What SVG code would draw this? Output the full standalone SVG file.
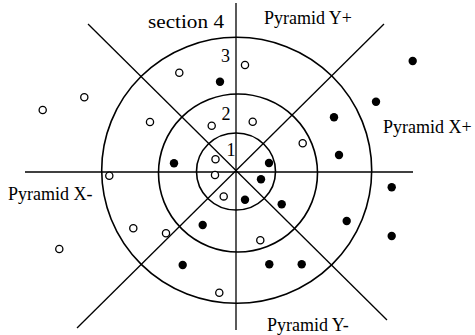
<svg xmlns="http://www.w3.org/2000/svg" width="475" height="335" viewBox="0 0 475 335">
<style>
.ln{stroke:#000;stroke-width:1.3;fill:none}
.ring{stroke:#000;stroke-width:1.6;fill:none}
.o{fill:#fff;stroke:#000;stroke-width:1.3}
.f{fill:#000}
text{font-family:"Liberation Serif","Times New Roman",serif;font-size:18px;fill:#000}
</style>
<rect width="475" height="335" fill="#fff"/>
<g id="rings">
<ellipse class="ring" cx="236.7" cy="170.3" rx="135" ry="133"/>
<ellipse class="ring" cx="238" cy="173" rx="79.5" ry="79"/>
<ellipse class="ring" cx="236" cy="171.5" rx="39.5" ry="38.5"/>
</g>
<g id="axes">
<line class="ln" x1="236" y1="3" x2="236" y2="330"/>
<line class="ln" x1="25" y1="172" x2="413" y2="172"/>
<line class="ln" x1="88" y1="24" x2="387" y2="320"/>
<line class="ln" x1="384" y1="24" x2="77" y2="328"/>
</g>
<g id="open-points">
<circle class="o" cx="179.3" cy="72.7" r="3.6"/>
<circle class="o" cx="84.3" cy="97.3" r="3.6"/>
<circle class="o" cx="42.7" cy="110" r="3.6"/>
<circle class="o" cx="150" cy="122" r="3.6"/>
<circle class="o" cx="211.7" cy="125.7" r="3.6"/>
<circle class="o" cx="215.5" cy="159.3" r="3.6"/>
<circle class="o" cx="245" cy="65" r="3.6"/>
<circle class="o" cx="252.7" cy="121.7" r="3.6"/>
<circle class="o" cx="302.7" cy="143.3" r="3.6"/>
<circle class="o" cx="109.3" cy="175.7" r="3.6"/>
<circle class="o" cx="215" cy="175" r="3.6"/>
<circle class="o" cx="223.7" cy="196.4" r="3.6"/>
<circle class="o" cx="133.3" cy="228.3" r="3.6"/>
<circle class="o" cx="166" cy="233.3" r="3.6"/>
<circle class="o" cx="59.3" cy="249" r="3.6"/>
<circle class="o" cx="219.3" cy="292.7" r="3.6"/>
<circle class="o" cx="260.3" cy="240.3" r="3.6"/>
</g>
<g id="filled-points">
<circle class="f" cx="220" cy="81.7" r="4.2"/>
<circle class="f" cx="174" cy="163.3" r="4.2"/>
<circle class="f" cx="412.7" cy="61" r="4.2"/>
<circle class="f" cx="376" cy="101.7" r="4.2"/>
<circle class="f" cx="334" cy="117.3" r="4.2"/>
<circle class="f" cx="339" cy="155" r="4.2"/>
<circle class="f" cx="269" cy="163" r="4.2"/>
<circle class="f" cx="261" cy="179.3" r="4.2"/>
<circle class="f" cx="245" cy="199.7" r="4.2"/>
<circle class="f" cx="281.7" cy="204.3" r="4.2"/>
<circle class="f" cx="346.7" cy="221" r="4.2"/>
<circle class="f" cx="391.7" cy="187.3" r="4.2"/>
<circle class="f" cx="391.7" cy="236" r="4.2"/>
<circle class="f" cx="269.3" cy="264.3" r="4.2"/>
<circle class="f" cx="301.7" cy="264.3" r="4.2"/>
<circle class="f" cx="202.7" cy="225" r="4.2"/>
<circle class="f" cx="182.7" cy="265" r="4.2"/>
</g>
<g id="labels">
<text x="148" y="27.5" font-size="19" textLength="76" lengthAdjust="spacingAndGlyphs">section 4</text>
<text x="264" y="24">Pyramid Y+</text>
<text x="383" y="132.5">Pyramid X+</text>
<text x="8" y="200">Pyramid X-</text>
<text x="267" y="331">Pyramid Y-</text>
<text x="221" y="62">3</text>
<text x="221.5" y="120">2</text>
<text x="226.5" y="156">1</text>
</g>
</svg>
